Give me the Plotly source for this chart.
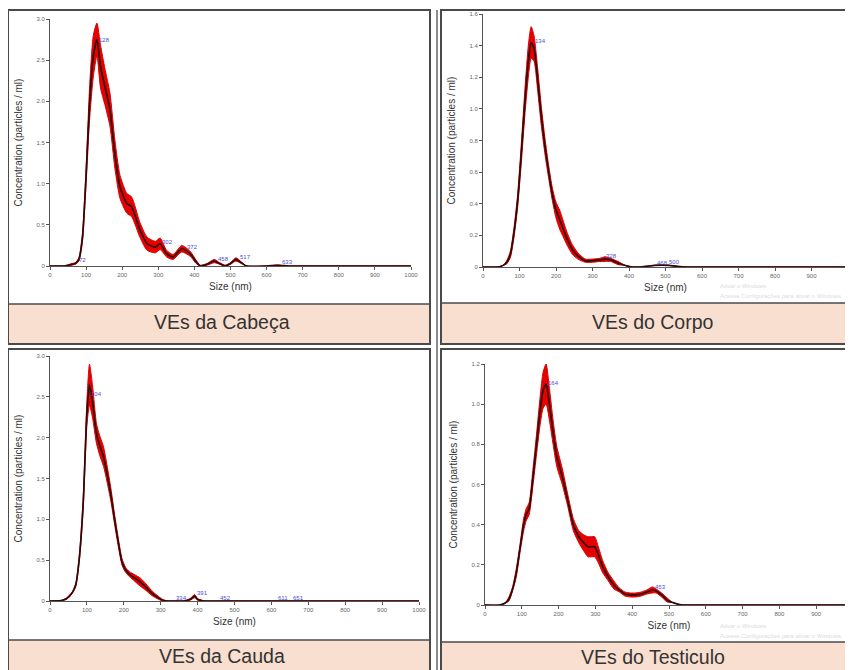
import numpy as np
import plotly.graph_objects as go

# page is drawn with an 8px body margin, so the figure is sized to fit the rest
OFF = 8
PAGE_W, PAGE_H = 853, 670
W, H = PAGE_W - OFF, PAGE_H - OFF

# ---------------- data ----------------
cab_size = [0, 40, 60, 70, 80, 90, 100, 110, 120, 130, 140, 152, 166, 180, 194, 213, 226, 249, 269, 292, 305, 323, 341, 365, 388, 405, 416, 435, 455, 470, 485, 500, 515, 530, 545, 600, 630, 660, 700, 800, 900, 1000]
cab_mean = [0, 0, 0.02, 0.03, 0.08, 0.35, 1.1, 2.0, 2.55, 2.75, 2.42, 2.18, 1.9, 1.35, 0.96, 0.76, 0.72, 0.44, 0.27, 0.23, 0.27, 0.15, 0.11, 0.21, 0.15, 0.05, 0.0, 0.02, 0.06, 0.03, 0.0, 0.03, 0.08, 0.04, 0.0, 0, 0.01, 0, 0, 0, 0, 0]
cab_err = [0, 0, 0.01, 0.01, 0.02, 0.05, 0.1, 0.2, 0.25, 0.2, 0.26, 0.22, 0.2, 0.17, 0.14, 0.12, 0.12, 0.09, 0.08, 0.07, 0.07, 0.04, 0.03, 0.04, 0.03, 0.02, 0.01, 0.01, 0.02, 0.01, 0.01, 0.01, 0.02, 0.01, 0, 0, 0, 0, 0, 0, 0, 0]
cab_lbl_size = [72, 128, 302, 372, 458, 517, 633]

cor_size = [0, 40, 55, 65, 75, 85, 95, 105, 115, 125, 132, 140, 150, 160, 170, 180, 190, 200, 210, 220, 230, 245, 260, 280, 300, 320, 335, 350, 370, 390, 410, 430, 450, 470, 490, 510, 530, 560, 600, 700, 800, 900, 1000]
cor_mean = [0, 0, 0.01, 0.03, 0.08, 0.22, 0.42, 0.72, 1.05, 1.32, 1.42, 1.38, 1.18, 0.95, 0.76, 0.6, 0.46, 0.36, 0.3, 0.24, 0.18, 0.11, 0.07, 0.04, 0.04, 0.045, 0.05, 0.045, 0.025, 0.01, 0.0, 0.0, 0.005, 0.01, 0.012, 0.01, 0.005, 0, 0, 0, 0, 0, 0]
cor_err = [0, 0, 0, 0.01, 0.02, 0.03, 0.04, 0.06, 0.08, 0.1, 0.1, 0.08, 0.07, 0.06, 0.05, 0.04, 0.04, 0.05, 0.06, 0.05, 0.04, 0.03, 0.02, 0.01, 0.01, 0.01, 0.015, 0.01, 0.01, 0, 0, 0, 0, 0, 0, 0, 0, 0, 0, 0, 0, 0, 0]
cor_lbl_size = [134, 328, 468, 500]

cau_size = [0, 30, 45, 60, 70, 80, 90, 100, 107, 115, 126, 135, 145, 155, 165, 175, 185, 195, 205, 215, 230, 245, 260, 275, 290, 305, 320, 340, 360, 380, 392, 400, 420, 460, 500, 600, 700, 800, 900, 1000]
cau_mean = [0, 0.005, 0.03, 0.1, 0.2, 0.55, 1.2, 2.3, 2.65, 2.45, 2.05, 1.9, 1.77, 1.55, 1.3, 1.0, 0.72, 0.48, 0.38, 0.33, 0.28, 0.23, 0.17, 0.1, 0.05, 0.01, 0, 0, 0, 0.02, 0.06, 0.02, 0, 0, 0, 0, 0, 0, 0, 0]
cau_err = [0, 0, 0.01, 0.01, 0.02, 0.04, 0.08, 0.15, 0.25, 0.2, 0.12, 0.12, 0.12, 0.1, 0.08, 0.06, 0.05, 0.04, 0.03, 0.03, 0.04, 0.05, 0.04, 0.03, 0.02, 0.01, 0, 0, 0, 0.01, 0.02, 0.01, 0, 0, 0, 0, 0, 0, 0, 0]
cau_lbl_size = [104, 334, 391, 452, 611, 651]

tes_size = [0, 40, 55, 65, 75, 85, 95, 105, 112, 120, 130, 140, 150, 158, 166, 175, 185, 195, 210, 225, 240, 255, 268, 280, 290, 298, 308, 320, 335, 350, 365, 380, 395, 410, 425, 440, 455, 465, 480, 495, 510, 525, 540, 560, 600, 700, 800, 900, 1000]
tes_mean = [0, 0, 0.01, 0.03, 0.08, 0.16, 0.28, 0.4, 0.45, 0.48, 0.63, 0.8, 0.97, 1.07, 1.1, 1.0, 0.86, 0.74, 0.64, 0.52, 0.4, 0.34, 0.31, 0.29, 0.29, 0.29, 0.25, 0.19, 0.14, 0.1, 0.075, 0.055, 0.05, 0.05, 0.055, 0.065, 0.075, 0.07, 0.05, 0.025, 0.012, 0.004, 0, 0, 0, 0, 0, 0, 0]
tes_err = [0, 0, 0, 0.01, 0.01, 0.02, 0.02, 0.03, 0.03, 0.03, 0.04, 0.05, 0.07, 0.09, 0.1, 0.08, 0.06, 0.05, 0.04, 0.03, 0.03, 0.03, 0.04, 0.05, 0.05, 0.05, 0.04, 0.03, 0.02, 0.02, 0.01, 0.01, 0.01, 0.01, 0.01, 0.01, 0.015, 0.01, 0.01, 0.01, 0, 0, 0, 0, 0, 0, 0, 0, 0]
tes_lbl_size = [164, 453]

x_ticks = [0, 100, 200, 300, 400, 500, 600, 700, 800, 900, 1000]
y_ticks_cab = [0, 0.5, 1.0, 1.5, 2.0, 2.5, 3.0]
y_text_cab = ["0", "0.5", "1.0", "1.5", "2.0", "2.5", "3.0"]
y_ticks_cor = [0, 0.2, 0.4, 0.6, 0.8, 1.0, 1.2, 1.4, 1.6]
y_text_cor = ["0", "0.2", "0.4", "0.6", "0.8", "1.0", "1.2", "1.4", "1.6"]
y_ticks_tes = [0, 0.2, 0.4, 0.6, 0.8, 1.0, 1.2]
y_text_tes = ["0", "0.2", "0.4", "0.6", "0.8", "1.0", "1.2"]

captions = ["VEs da Cabeça", "VEs do Corpo", "VEs da Cauda", "VEs do Testiculo"]

# ---------------- layout helpers (page pixel -> paper) ----------------
def px(x):
    return (x - OFF) / W

def py(y):
    return 1 - (y - OFF) / H

panels = [
    dict(s=cab_size, m=cab_mean, e=cab_err, lb=cab_lbl_size, yt=y_ticks_cab, ytx=y_text_cab, yr=[0, 3.0],
         xd=(50, 411), yd=(19, 266), frame=(8, 10, 430, 344), strip=(304, 344), cap=(222, 322)),
    dict(s=cor_size, m=cor_mean, e=cor_err, lb=cor_lbl_size, yt=y_ticks_cor, ytx=y_text_cor, yr=[0, 1.6],
         xd=(483, 848), yd=(14, 267), frame=(441, 10, 860, 344), strip=(303, 344), cap=(653, 322)),
    dict(s=cau_size, m=cau_mean, e=cau_err, lb=cau_lbl_size, yt=y_ticks_cab, ytx=y_text_cab, yr=[0, 3.0],
         xd=(50, 419), yd=(356, 601), frame=(8, 349, 430, 680), strip=(640, 680), cap=(222, 656)),
    dict(s=tes_size, m=tes_mean, e=tes_err, lb=tes_lbl_size, yt=y_ticks_tes, ytx=y_text_tes, yr=[0, 1.2],
         xd=(485, 853), yd=(364, 605), frame=(441, 349, 860, 680), strip=(642, 680), cap=(653, 657)),
]

fig = go.Figure()
shapes = []
annotations = []
FONT = "Liberation Sans"

for i, p in enumerate(panels, start=1):
    xa = "x" if i == 1 else f"x{i}"
    ya = "y" if i == 1 else f"y{i}"
    s = np.array(p["s"], dtype=float)
    m = np.array(p["m"], dtype=float)
    e = np.array(p["e"], dtype=float)
    upper = m + e
    lower = np.clip(m - e, 0, None)

    fig.add_trace(go.Scatter(x=s, y=upper, mode="lines", line=dict(color="#d80000", width=1, shape="spline", smoothing=0.6),
                             xaxis=xa, yaxis=ya, hoverinfo="skip", showlegend=False))
    fig.add_trace(go.Scatter(x=s, y=lower, mode="lines", line=dict(color="#d80000", width=1, shape="spline", smoothing=0.6),
                             fill="tonexty", fillcolor="#e60000",
                             xaxis=xa, yaxis=ya, hoverinfo="skip", showlegend=False))
    fig.add_trace(go.Scatter(x=s, y=m, mode="lines", line=dict(color="#2a0a0a", width=1.6, shape="spline", smoothing=0.6),
                             xaxis=xa, yaxis=ya, showlegend=False))

    for ls in p["lb"]:
        yv = float(np.interp(ls, s, m))
        annotations.append(dict(x=ls, y=yv, xref=xa, yref=ya, text=str(ls), showarrow=False,
                                font=dict(size=6, color="#4d4dd6", family=FONT), xanchor="left", yanchor="bottom",
                                xshift=1, yshift=-2))

    ax_common = dict(showline=True, linecolor="#555", linewidth=1, ticks="outside", ticklen=3,
                     tickcolor="#555", tickfont=dict(size=6, color="#666", family=FONT),
                     showgrid=False, zeroline=False, automargin=False, fixedrange=True)
    xkey = "xaxis" if i == 1 else f"xaxis{i}"
    ykey = "yaxis" if i == 1 else f"yaxis{i}"
    fig.update_layout(**{
        xkey: dict(ax_common, domain=[max(px(p["xd"][0]), 0), min(px(p["xd"][1]), 1)], range=[0, 1000], anchor=ya,
                   tickvals=x_ticks, ticktext=[str(t) for t in x_ticks],
                   title=dict(text="Size (nm)", font=dict(size=10, color="#333", family=FONT), standoff=5)),
        ykey: dict(ax_common, domain=[py(p["yd"][1]), py(p["yd"][0])], range=p["yr"], anchor=xa,
                   tickvals=p["yt"], ticktext=p["ytx"],
                   title=dict(text="Concentration (particles / ml)", font=dict(size=10, color="#333", family=FONT), standoff=11)),
    })

    fx0, fy0, fx1, fy1 = p["frame"]
    shapes.append(dict(type="rect", xref="paper", yref="paper", x0=px(fx0), x1=px(fx1), y0=py(p["strip"][1]), y1=py(p["strip"][0]),
                       fillcolor="#f9dfcf", line=dict(width=0), layer="below"))
    shapes.append(dict(type="line", xref="paper", yref="paper", x0=px(fx0), x1=px(fx1), y0=py(p["strip"][0]), y1=py(p["strip"][0]),
                       line=dict(color="#4a4a4a", width=1.5)))
    shapes.append(dict(type="rect", xref="paper", yref="paper", x0=px(fx0), x1=px(fx1), y0=py(fy1), y1=py(fy0),
                       line=dict(color="#4a4a4a", width=2), fillcolor="rgba(0,0,0,0)"))
    annotations.append(dict(x=px(p["cap"][0]), y=py(p["cap"][1]), xref="paper", yref="paper", text=captions[i - 1],
                            showarrow=False, font=dict(size=19.5, color="#333", family=FONT),
                            xanchor="center", yanchor="middle"))

shapes.append(dict(type="line", xref="paper", yref="paper", x0=px(437), x1=px(437), y0=0, y1=py(10),
                   line=dict(color="#666", width=1.5)))

# faint OS watermark text present in the picture
for yy in (286, 626):
    annotations.append(dict(x=px(718), y=py(yy), xref="paper", yref="paper", text="Ativar o Windows",
                            showarrow=False, font=dict(size=6, color="#dcdcdc", family=FONT),
                            xanchor="left", yanchor="middle"))
    annotations.append(dict(x=px(718), y=py(yy + 10), xref="paper", yref="paper",
                            text="Acesse Configurações para ativar o Windows.",
                            showarrow=False, font=dict(size=6, color="#dcdcdc", family=FONT),
                            xanchor="left", yanchor="middle"))

fig.update_layout(width=W, height=H, margin=dict(l=0, r=0, t=0, b=0),
                  paper_bgcolor="white", plot_bgcolor="white",
                  shapes=shapes, annotations=annotations, showlegend=False)

fig.write_html("out.html", config={"displayModeBar": False})
